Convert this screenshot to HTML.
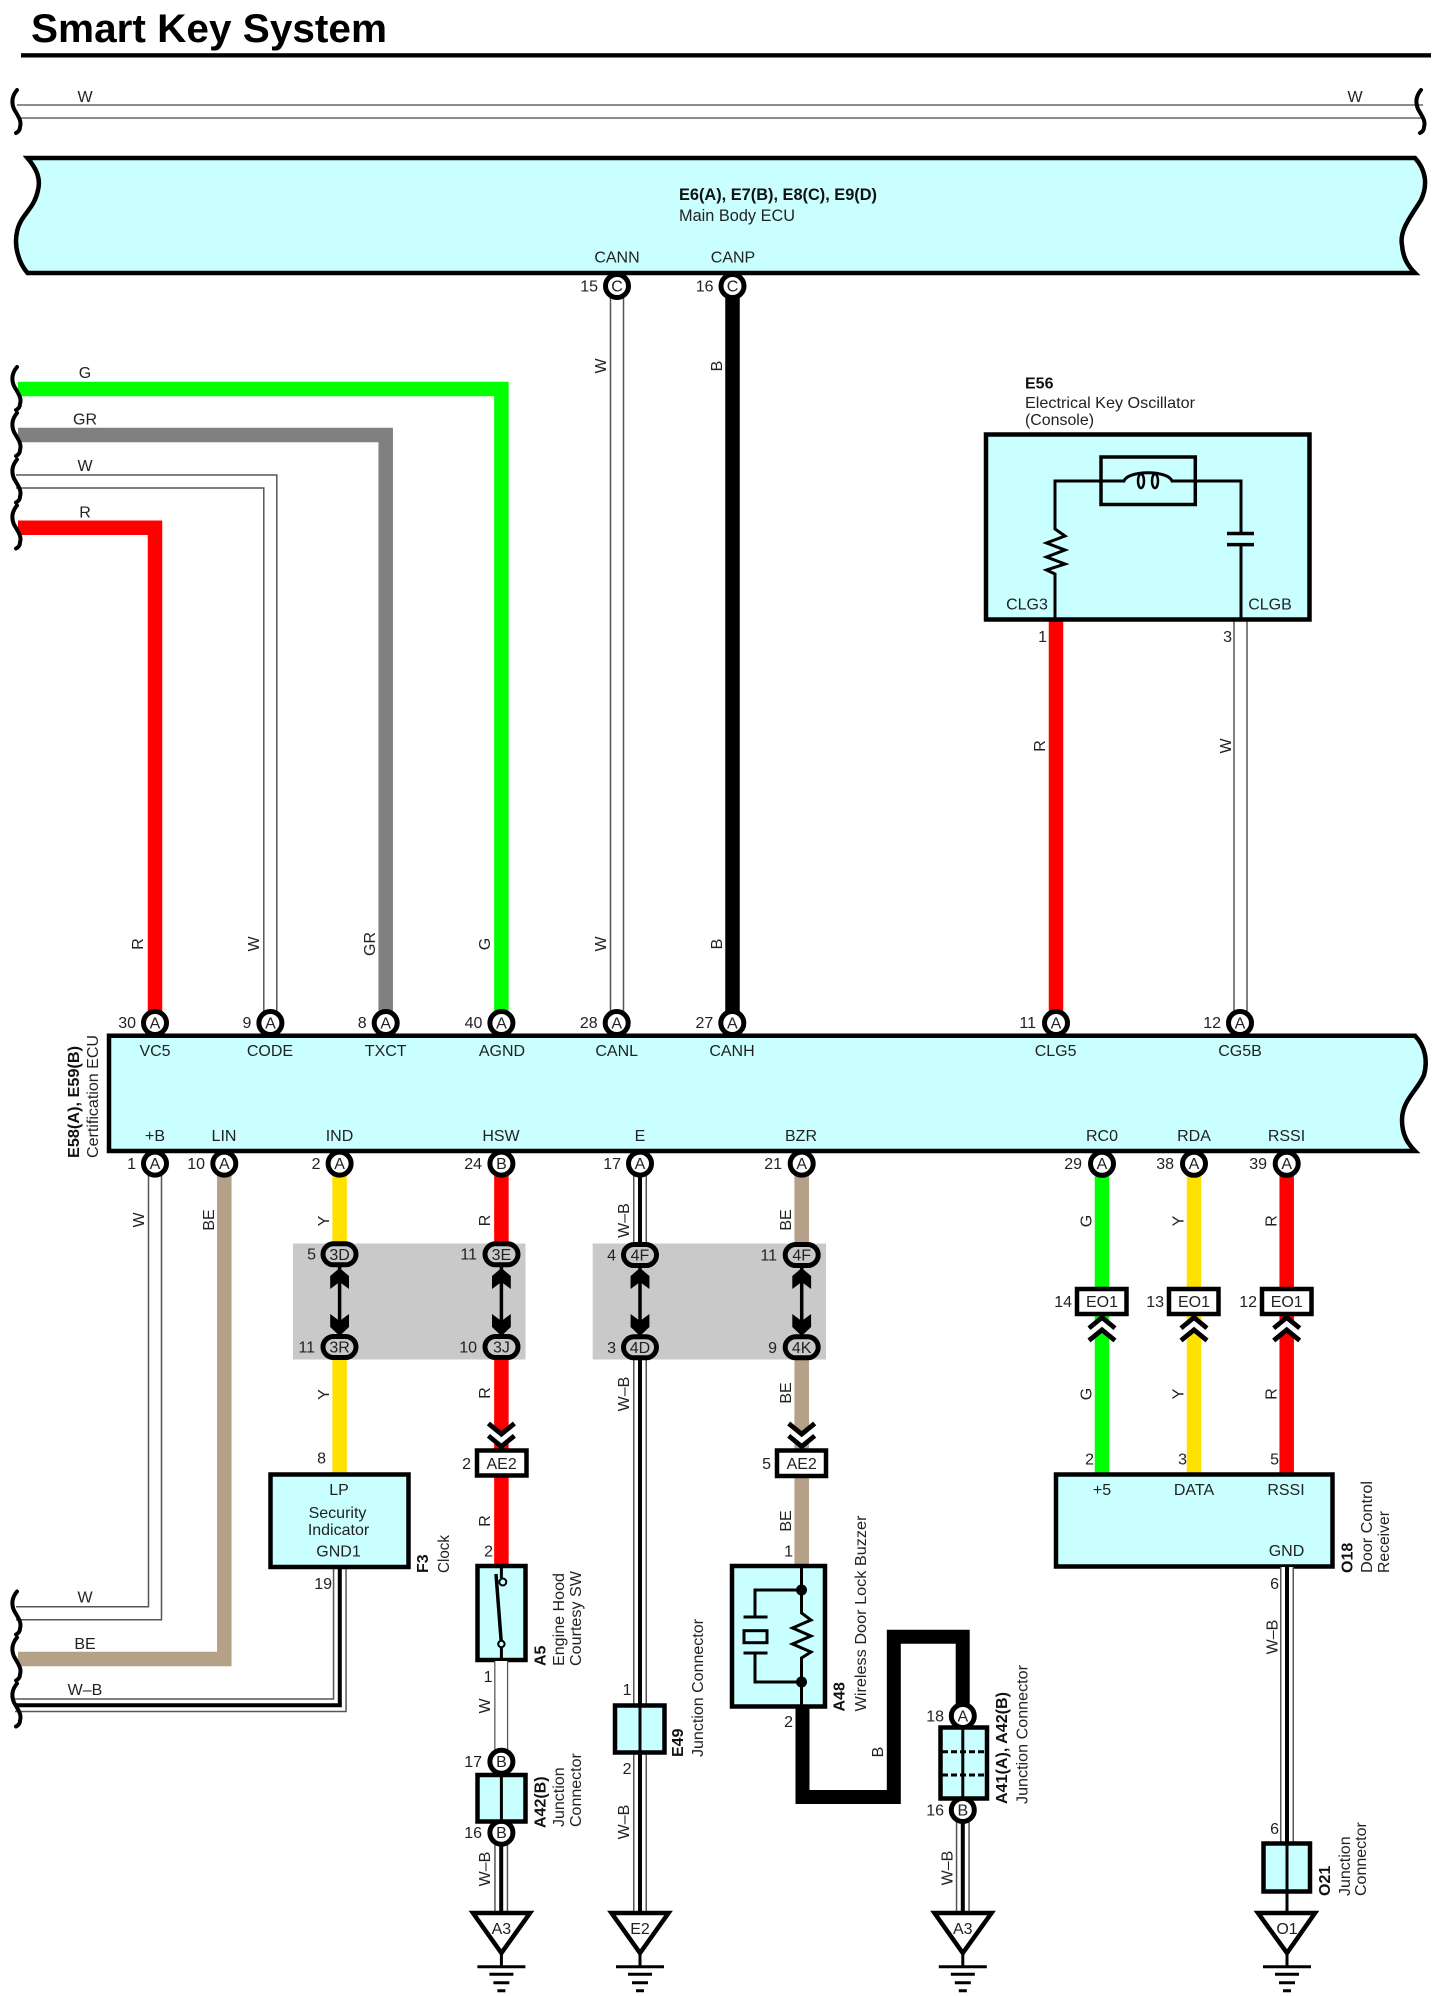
<!DOCTYPE html>
<html><head><meta charset="utf-8"><title>Smart Key System</title>
<style>
html,body{margin:0;padding:0;background:#fff}
svg{display:block}
text{font-family:"Liberation Sans",sans-serif;font-size:16px;fill:#222}
.m{text-anchor:middle}.e{text-anchor:end}.b{font-weight:bold;fill:#111}
.n{font-size:16px;text-anchor:end}
.l{font-size:16px;text-anchor:middle}
.w{fill:none;stroke-miterlimit:10}
.k{fill:none;stroke:#000;stroke-width:3}
.c{fill:#fff;stroke:#000;stroke-width:5;r:11.5px}
.o{fill:#c9c9c9;stroke:#000;stroke-width:5}
.x{fill:#c9ffff;stroke:#000;stroke-width:4.5}
.r{fill:#fff;stroke:#000;stroke-width:4.5}
.v{fill:none;stroke:#000;stroke-width:4}
.t{fill:#fff;stroke:#000;stroke-width:4.5;stroke-linejoin:miter}
</style></head><body>
<svg xmlns="http://www.w3.org/2000/svg" width="1444" height="1996" viewBox="0 0 1444 1996">
<defs>
<path id="wv" fill="none" stroke="#000" stroke-width="4" stroke-linecap="round" d="M17 0C12 6 11 12 14 19C18 26 22 31 20 37C20 40 18 42 16 43"/>
<g id="cd"><path fill="#fff" d="M-13 -23L0 -12.400L13 -23V-10.700L0 0L-13 -10.700Z"/><path fill="none" stroke="#000" stroke-width="4.800" d="M-13 -23L0 -12.400L13 -23M-13 -10.700L0 0L13 -10.700"/></g>
<g id="cu"><path fill="#fff" d="M-13 23L0 12.400L13 23V10.700L0 0L-13 10.700Z"/><path fill="none" stroke="#000" stroke-width="4.800" d="M-13 23L0 12.400L13 23M-13 10.700L0 0L13 10.700"/></g>
<g id="gnd"><path d="M0 0V12" stroke="#000" stroke-width="3"/><path d="M-24 12H24M-12 19.500H12M-8 28H8M-4 36H4" stroke="#000" stroke-width="3"/></g>
</defs>

<text class="b" x="31" y="42" style="font-size:40px;fill:#000" textLength="356" lengthAdjust="spacingAndGlyphs">Smart Key System</text>
<rect x="21" y="53.200" width="1410" height="4.300" fill="#000"/>

<!-- top W wire -->
<path class="w" stroke="#666" stroke-width="14.500" d="M17 111.500H1423"/>
<path class="w" stroke="#fff" stroke-width="11.500" d="M16 111.500H1424"/>
<use href="#wv" x="0" y="90"/><use href="#wv" x="1404" y="90"/>
<text class="l m" x="85" y="102">W</text><text class="l m" x="1355" y="102">W</text>

<!-- main body ecu -->
<path class="x" stroke-width="4" d="M27.500 158H1415C1426 170 1428 185 1421 200C1412 215 1399 230 1402 245C1403 258 1408 266 1415 273H27.500C18 262 14 245 17 232C20 215 34 210 38 190C41 178 36 168 27.500 158Z"/>
<text class="b" x="679" y="200" style="font-size:17px" textLength="198" lengthAdjust="spacingAndGlyphs">E6(A), E7(B), E8(C), E9(D)</text>
<text x="679" y="221" style="font-size:17px" textLength="116" lengthAdjust="spacingAndGlyphs">Main Body ECU</text>
<text class="m" x="617" y="262.500">CANN</text><text class="m" x="733" y="262.500">CANP</text>

<!-- wires upper -->
<path class="w" stroke="#f00" stroke-width="14.500" d="M18 527.700H155V1023"/>
<path class="w" stroke="#555" stroke-width="14.500" d="M16 481.500H270.300V1023"/>
<path class="w" stroke="#fff" stroke-width="11.500" d="M15 481.500H270.300V1023"/>
<path class="w" stroke="#808080" stroke-width="14.500" d="M18 435H385.700V1023"/>
<path class="w" stroke="#0f0" stroke-width="14.500" d="M18 389H501.400V1023"/>
<path class="w" stroke="#555" stroke-width="14.500" d="M617 286V1023"/>
<path class="w" stroke="#fff" stroke-width="11.500" d="M617 286V1023"/>
<path class="w" stroke="#000" stroke-width="14.500" d="M732.500 286V1023"/>
<path class="w" stroke="#f00" stroke-width="14.500" d="M1056 620V1023"/>
<path class="w" stroke="#555" stroke-width="14.500" d="M1240.500 620V1023"/>
<path class="w" stroke="#fff" stroke-width="11.500" d="M1240.500 620V1023"/>
<use href="#wv" y="367"/><use href="#wv" y="413"/><use href="#wv" y="459.500"/><use href="#wv" y="505.500"/>
<text class="l" x="85" y="378">G</text><text class="l" x="85" y="424.500">GR</text><text class="l" x="85" y="471">W</text><text class="l" x="85" y="517.500">R</text>

<!-- rotated upper wire labels -->
<g class="rl">
<text class="l" transform="translate(143 944) rotate(-90)">R</text>
<text class="l" transform="translate(259 944) rotate(-90)">W</text>
<text class="l" transform="translate(375 944) rotate(-90)">GR</text>
<text class="l" transform="translate(490 944) rotate(-90)">G</text>
<text class="l" transform="translate(606 944) rotate(-90)">W</text>
<text class="l" transform="translate(722 944) rotate(-90)">B</text>
<text class="l" transform="translate(606 366) rotate(-90)">W</text>
<text class="l" transform="translate(722 366) rotate(-90)">B</text>
<text class="l" transform="translate(1045 746) rotate(-90)">R</text>
<text class="l" transform="translate(1231 746) rotate(-90)">W</text>
</g>

<!-- lower wires -->
<path class="w" stroke="#555" stroke-width="14.500" d="M16 1613.300H155V1164"/>
<path class="w" stroke="#fff" stroke-width="11.500" d="M15 1613.300H155V1164"/>
<path class="w" stroke="#b5a088" stroke-width="14.500" d="M18 1659H224.300V1164"/>
<path class="w" stroke="#ffe100" stroke-width="14.500" d="M339.600 1164V1475"/>
<path class="w" stroke="#f00" stroke-width="14.500" d="M501.400 1164V1568"/>
<path class="w" stroke="#b5a088" stroke-width="14.500" d="M801.700 1164V1568"/>
<path class="w" stroke="#555" stroke-width="14" d="M640 1164V1913"/>
<path class="w" stroke="#fff" stroke-width="11" d="M640 1164V1913"/>
<path class="w" stroke="#000" stroke-width="4" d="M640 1164V1913"/>
<path class="w" stroke="#555" stroke-width="14" d="M15 1705.300H339.800V1567"/>
<path class="w" stroke="#fff" stroke-width="11" d="M15 1705.300H339.800V1567"/>
<path class="w" stroke="#000" stroke-width="4" d="M15 1705.300H339.800V1567"/>
<use href="#wv" y="1591.500"/><use href="#wv" y="1637.500"/><use href="#wv" y="1683.500"/>
<text class="l" x="85" y="1602.500">W</text><text class="l" x="85" y="1649">BE</text><text class="l" x="85" y="1695">W–B</text>

<!-- right lower wires -->
<path class="w" stroke="#0f0" stroke-width="14.500" d="M1102 1164V1476"/>
<path class="w" stroke="#ffe100" stroke-width="14.500" d="M1194 1164V1476"/>
<path class="w" stroke="#f00" stroke-width="14.500" d="M1286.700 1164V1476"/>

<!-- gray ranges -->
<rect x="293" y="1243.500" width="232.500" height="116" fill="#c9c9c9"/>
<rect x="592.700" y="1243.500" width="233.300" height="116" fill="#c9c9c9"/>

<!-- cert ecu -->
<path class="x" d="M109 1035.700H1415C1425 1046 1428 1060 1424 1075C1418 1090 1402 1100 1402 1120C1402 1135 1408 1144 1415 1151H109Z"/>
<text class="m" x="155" y="1056">VC5</text><text class="m" x="270" y="1056">CODE</text><text class="m" x="385.700" y="1056">TXCT</text><text class="m" x="502" y="1056">AGND</text><text class="m" x="616.700" y="1056">CANL</text><text class="m" x="732" y="1056">CANH</text><text class="m" x="1055.600" y="1056">CLG5</text><text class="m" x="1240" y="1056">CG5B</text>
<text class="m" x="155" y="1141">+B</text><text class="m" x="224" y="1141">LIN</text><text class="m" x="339.500" y="1141">IND</text><text class="m" x="501" y="1141">HSW</text><text class="m" x="640" y="1141">E</text><text class="m" x="801" y="1141">BZR</text><text class="m" x="1102" y="1141">RC0</text><text class="m" x="1194" y="1141">RDA</text><text class="m" x="1286.500" y="1141">RSSI</text>
<text class="b" transform="translate(79 1158) rotate(-90)" textLength="112" lengthAdjust="spacingAndGlyphs">E58(A), E59(B)</text>
<text transform="translate(98 1158) rotate(-90)" textLength="123" lengthAdjust="spacingAndGlyphs">Certification ECU</text>

<!-- circle nodes top -->
<circle class="c" cx="617" cy="286" r="11"/><text class="m" x="617" y="291.500">C</text><text class="n" x="598" y="291.500">15</text>
<circle class="c" cx="732.500" cy="286" r="11"/><text class="m" x="732.500" y="291.500">C</text><text class="n" x="713.500" y="291.500">16</text>
<g>
<circle class="c" cx="155" cy="1023" r="11"/><text class="m" x="155" y="1028.500">A</text><text class="n" x="136" y="1028">30</text>
<circle class="c" cx="270.400" cy="1023" r="11"/><text class="m" x="270.400" y="1028.500">A</text><text class="n" x="251.400" y="1028">9</text>
<circle class="c" cx="385.700" cy="1023" r="11"/><text class="m" x="385.700" y="1028.500">A</text><text class="n" x="366.700" y="1028">8</text>
<circle class="c" cx="501.400" cy="1023" r="11"/><text class="m" x="501.400" y="1028.500">A</text><text class="n" x="482.400" y="1028">40</text>
<circle class="c" cx="616.700" cy="1023" r="11"/><text class="m" x="616.700" y="1028.500">A</text><text class="n" x="597.700" y="1028">28</text>
<circle class="c" cx="732.300" cy="1023" r="11"/><text class="m" x="732.300" y="1028.500">A</text><text class="n" x="713.300" y="1028">27</text>
<circle class="c" cx="1056" cy="1023" r="11"/><text class="m" x="1056" y="1028.500">A</text><text class="n" x="1036" y="1028">11</text>
<circle class="c" cx="1240" cy="1023" r="11"/><text class="m" x="1240" y="1028.500">A</text><text class="n" x="1221" y="1028">12</text>
</g>
<!-- circle nodes bottom -->
<g>
<circle class="c" cx="155" cy="1163.600" r="11"/><text class="m" x="155" y="1169">A</text><text class="n" x="136" y="1169">1</text>
<circle class="c" cx="224.300" cy="1163.600" r="11"/><text class="m" x="224.300" y="1169">A</text><text class="n" x="205" y="1169">10</text>
<circle class="c" cx="339.600" cy="1163.600" r="11"/><text class="m" x="339.600" y="1169">A</text><text class="n" x="320.500" y="1169">2</text>
<circle class="c" cx="501.400" cy="1163.600" r="11"/><text class="m" x="501.400" y="1169">B</text><text class="n" x="482" y="1169">24</text>
<circle class="c" cx="640" cy="1163.600" r="11"/><text class="m" x="640" y="1169">A</text><text class="n" x="621" y="1169">17</text>
<circle class="c" cx="801.700" cy="1163.600" r="11"/><text class="m" x="801.700" y="1169">A</text><text class="n" x="782" y="1169">21</text>
<circle class="c" cx="1102" cy="1163.800" r="11"/><text class="m" x="1102" y="1169">A</text><text class="n" x="1082" y="1169">29</text>
<circle class="c" cx="1194" cy="1163.800" r="11"/><text class="m" x="1194" y="1169">A</text><text class="n" x="1174" y="1169">38</text>
<circle class="c" cx="1286.700" cy="1163.800" r="11"/><text class="m" x="1286.700" y="1169">A</text><text class="n" x="1267" y="1169">39</text>
</g>

<!-- junction ovals & arrows -->
<g>
<path stroke="#000" stroke-width="3.500" d="M339.600 1260V1340M501.400 1260V1340M640 1260V1340M801.700 1260V1340"/>
<path fill="#000" d="M339.600 1268L349 1276V1289L339.600 1282L330.200 1289V1276ZM339.600 1336L349 1327V1314L339.600 1321L330.200 1314V1327Z"/>
<path fill="#000" d="M501.400 1268L510.800 1276V1289L501.400 1282L492 1289V1276ZM501.400 1336L510.800 1327V1314L501.400 1321L492 1314V1327Z"/>
<path fill="#000" d="M640 1268L649.400 1276V1289L640 1282L630.600 1289V1276ZM640 1336L649.400 1327V1314L640 1321L630.600 1314V1327Z"/>
<path fill="#000" d="M801.700 1268L811.100 1276V1289L801.700 1282L792.300 1289V1276ZM801.700 1336L811.100 1327V1314L801.700 1321L792.300 1314V1327Z"/>
<rect class="o" x="323" y="1243.800" width="33" height="21" rx="10.500"/><text class="m" x="339.600" y="1259.800">3D</text><text class="n" x="316" y="1259.500">5</text>
<rect class="o" x="323" y="1336.500" width="33" height="21" rx="10.500"/><text class="m" x="339.600" y="1352.500">3R</text><text class="n" x="315" y="1352.500">11</text>
<rect class="o" x="485" y="1243.800" width="33" height="21" rx="10.500"/><text class="m" x="501.400" y="1259.800">3E</text><text class="n" x="477" y="1259.500">11</text>
<rect class="o" x="485" y="1336.500" width="33" height="21" rx="10.500"/><text class="m" x="501.400" y="1352.500">3J</text><text class="n" x="477" y="1352.500">10</text>
<rect class="o" x="623.500" y="1244.500" width="33" height="21" rx="10.500"/><text class="m" x="640" y="1260.500">4F</text><text class="n" x="616" y="1260.500">4</text>
<rect class="o" x="623.500" y="1336.800" width="33" height="21" rx="10.500"/><text class="m" x="640" y="1352.800">4D</text><text class="n" x="616" y="1352.800">3</text>
<rect class="o" x="785.200" y="1244.500" width="33" height="21" rx="10.500"/><text class="m" x="801.700" y="1260.500">4F</text><text class="n" x="777" y="1260.500">11</text>
<rect class="o" x="785.200" y="1336.800" width="33" height="21" rx="10.500"/><text class="m" x="801.700" y="1352.800">4K</text><text class="n" x="777" y="1352.800">9</text>
</g>

<!-- AE2 / EO1 -->
<use href="#cd" x="501.400" y="1446.500"/><use href="#cd" x="801.700" y="1446.500"/>
<rect class="r" x="477" y="1450.500" width="49.500" height="25"/><text class="m" x="501.600" y="1469">AE2</text><text class="n" x="471" y="1469">2</text>
<rect class="r" x="777" y="1450.500" width="49" height="25.500"/><text class="m" x="801.700" y="1469">AE2</text><text class="n" x="771" y="1469">5</text>
<use href="#cu" x="1102" y="1317.500"/><use href="#cu" x="1194" y="1317.500"/><use href="#cu" x="1286.700" y="1317.500"/>
<rect class="r" x="1077" y="1289" width="49.500" height="25"/><text class="m" x="1102" y="1307">EO1</text><text class="n" x="1072" y="1307">14</text>
<rect class="r" x="1169" y="1289" width="49.500" height="25"/><text class="m" x="1194" y="1307">EO1</text><text class="n" x="1164" y="1307">13</text>
<rect class="r" x="1262" y="1289" width="49.500" height="25"/><text class="m" x="1286.700" y="1307">EO1</text><text class="n" x="1257" y="1307">12</text>

<!-- wire labels lower -->
<text class="l" transform="translate(144 1220) rotate(-90)">W</text>
<text class="l" transform="translate(214 1220) rotate(-90)">BE</text>
<text class="l" transform="translate(329 1221) rotate(-90)">Y</text>
<text class="l" transform="translate(329 1394.500) rotate(-90)">Y</text>
<text class="l" transform="translate(490 1220.500) rotate(-90)">R</text>
<text class="l" transform="translate(490 1393) rotate(-90)">R</text>
<text class="l" transform="translate(490 1521) rotate(-90)">R</text>
<text class="l" transform="translate(629 1220.500) rotate(-90)">W–B</text>
<text class="l" transform="translate(629 1394) rotate(-90)">W–B</text>
<text class="l" transform="translate(791 1220) rotate(-90)">BE</text>
<text class="l" transform="translate(791 1393) rotate(-90)">BE</text>
<text class="l" transform="translate(791 1521) rotate(-90)">BE</text>
<text class="l" transform="translate(1091.500 1221) rotate(-90)">G</text>
<text class="l" transform="translate(1091.500 1394) rotate(-90)">G</text>
<text class="l" transform="translate(1183.500 1221) rotate(-90)">Y</text>
<text class="l" transform="translate(1183.500 1394) rotate(-90)">Y</text>
<text class="l" transform="translate(1276.500 1221) rotate(-90)">R</text>
<text class="l" transform="translate(1276.500 1394) rotate(-90)">R</text>
<text class="l" transform="translate(490 1706) rotate(-90)">W</text>
<text class="l" transform="translate(490 1869) rotate(-90)">W–B</text>
<text class="l" transform="translate(629 1822) rotate(-90)">W–B</text>
<text class="l" transform="translate(883 1752) rotate(-90)">B</text>
<text class="l" transform="translate(952.500 1868) rotate(-90)">W–B</text>
<text class="l" transform="translate(1277.500 1637) rotate(-90)">W–B</text>

<!-- LP clock -->
<rect class="x" x="270.500" y="1474.500" width="138" height="92.500"/>
<text class="m" x="339" y="1495">LP</text>
<text class="m" x="337.500" y="1518">Security</text>
<text class="m" x="338.500" y="1535">Indicator</text>
<text class="m" x="338.500" y="1556.500">GND1</text>
<text class="n" x="326" y="1463.500">8</text>
<text class="n" x="332" y="1589">19</text>
<text class="b" transform="translate(428 1573) rotate(-90)">F3</text>
<text transform="translate(449 1573) rotate(-90)" textLength="38" lengthAdjust="spacingAndGlyphs">Clock</text>

<!-- A5 engine hood -->
<rect class="x" stroke-width="4" x="477.500" y="1566" width="48" height="94"/>
<path fill="none" stroke="#000" stroke-width="3" d="M501.400 1566V1578M501.400 1644V1660"/>
<path d="M496 1574L501.400 1644" stroke="#000" stroke-width="3.500"/>
<circle cx="502.800" cy="1582" r="3.500" fill="#c9ffff" stroke="#000" stroke-width="2"/>
<circle cx="501.400" cy="1644" r="3.200" fill="#c9ffff" stroke="#000" stroke-width="2"/>
<text class="n" x="493" y="1556.500">2</text>
<text class="n" x="492.500" y="1682">1</text>
<text class="b" transform="translate(545.500 1666) rotate(-90)">A5</text>
<text transform="translate(564 1666) rotate(-90)" textLength="93" lengthAdjust="spacingAndGlyphs">Engine Hood</text>
<text transform="translate(581 1666) rotate(-90)" textLength="95" lengthAdjust="spacingAndGlyphs">Courtesy SW</text>

<!-- A5 to A42 -->
<path class="w" stroke="#555" stroke-width="14" d="M501.200 1661V1752"/>
<path class="w" stroke="#fff" stroke-width="11.500" d="M501.200 1661V1752"/>
<path class="w" stroke="#555" stroke-width="14" d="M501.200 1845V1913"/>
<path class="w" stroke="#fff" stroke-width="11" d="M501.200 1845V1913"/>
<path class="w" stroke="#000" stroke-width="4" d="M501.200 1845V1913"/>
<circle class="c" cx="501.400" cy="1761.700" r="11"/><text class="m" x="501.400" y="1767">B</text><text class="n" x="482" y="1767">17</text>
<circle class="c" cx="501.400" cy="1832.700" r="11"/><text class="m" x="501.400" y="1838">B</text><text class="n" x="482" y="1838">16</text>
<rect class="x" stroke-width="4" x="477.500" y="1775" width="48" height="46.500"/>
<path class="k" d="M501.400 1775V1821"/>
<text class="b" transform="translate(545.500 1828) rotate(-90)">A42(B)</text>
<text transform="translate(564 1827) rotate(-90)">Junction</text>
<text transform="translate(581 1827) rotate(-90)">Connector</text>

<!-- E49 -->
<rect class="x" stroke-width="4" x="615" y="1705.500" width="49.500" height="47"/>
<path class="k" d="M640 1705V1752"/>
<text class="n" x="631.500" y="1695">1</text><text class="n" x="631.500" y="1774">2</text>
<text class="b" transform="translate(683 1757) rotate(-90)">E49</text>
<text transform="translate(703 1757) rotate(-90)" textLength="138" lengthAdjust="spacingAndGlyphs">Junction Connector</text>

<!-- A48 buzzer -->
<path class="w" stroke="#000" stroke-width="14" d="M802.500 1706V1797H893.800V1636.700H962.700V1716"/>
<rect class="x" stroke-width="4" x="732" y="1566" width="93" height="140.500"/>
<path class="k" d="M801.500 1566V1613L811 1620L792.500 1628L811 1636L792.500 1644L811 1652L801.500 1658V1707"/>
<path class="k" stroke-width="3" d="M801.500 1590H755V1617M743.500 1617H767.500M743.500 1653H767.500M755 1653V1682H801.500"/>
<rect x="744" y="1630.700" width="23" height="12" fill="#c9ffff" stroke="#000" stroke-width="3"/>
<circle cx="801.500" cy="1590" r="5.500"/><circle cx="801.500" cy="1682" r="5.500"/>
<text class="n" x="793" y="1556.500">1</text><text class="n" x="793" y="1727">2</text>
<text class="b" transform="translate(844.500 1711.500) rotate(-90)">A48</text>
<text transform="translate(866 1711.500) rotate(-90)" textLength="196" lengthAdjust="spacingAndGlyphs">Wireless Door Lock Buzzer</text>

<!-- A41 -->
<path class="w" stroke="#555" stroke-width="14" d="M962.800 1820V1913"/>
<path class="w" stroke="#fff" stroke-width="11" d="M962.800 1820V1913"/>
<path class="w" stroke="#000" stroke-width="4" d="M962.800 1820V1913"/>
<circle class="c" cx="962.800" cy="1716" r="11"/><text class="m" x="962.800" y="1721.500">A</text><text class="n" x="944" y="1721.500">18</text>
<circle class="c" cx="962.800" cy="1810" r="11"/><text class="m" x="962.800" y="1815.500">B</text><text class="n" x="944" y="1815.500">16</text>
<rect class="x" stroke-width="4" x="940.500" y="1727.500" width="46.500" height="71"/>
<path class="k" d="M962.800 1727V1798"/>
<path fill="none" stroke="#000" stroke-width="3" stroke-dasharray="6 3 6 3" d="M942 1751.700H986M942 1775H986"/>
<text class="b" transform="translate(1007 1804) rotate(-90)" textLength="112" lengthAdjust="spacingAndGlyphs">A41(A), A42(B)</text>
<text transform="translate(1027.500 1804) rotate(-90)" textLength="139" lengthAdjust="spacingAndGlyphs">Junction Connector</text>

<!-- O18 -->
<rect class="x" x="1056" y="1474.500" width="276.500" height="92"/>
<text class="m" x="1102" y="1495">+5</text><text class="m" x="1194" y="1495">DATA</text><text class="m" x="1286" y="1495">RSSI</text><text class="m" x="1286.500" y="1556">GND</text>
<text class="n" x="1094" y="1464.500">2</text><text class="n" x="1187" y="1464.500">3</text><text class="n" x="1279" y="1464.500">5</text>
<text class="b" transform="translate(1352.500 1573) rotate(-90)">O18</text>
<text transform="translate(1372 1573) rotate(-90)" textLength="92" lengthAdjust="spacingAndGlyphs">Door Control</text>
<text transform="translate(1389 1573) rotate(-90)" textLength="62" lengthAdjust="spacingAndGlyphs">Receiver</text>
<path class="w" stroke="#555" stroke-width="14" d="M1287 1567V1844"/>
<path class="w" stroke="#fff" stroke-width="11" d="M1287 1567V1844"/>
<path class="w" stroke="#000" stroke-width="4" d="M1287 1567V1844"/>
<text class="n" x="1279" y="1589">6</text><text class="n" x="1279" y="1834">6</text>
<rect class="x" x="1263.500" y="1843.500" width="46.500" height="48"/>
<path class="k" d="M1287 1843V1913"/>
<text class="b" transform="translate(1330 1896) rotate(-90)">O21</text>
<text transform="translate(1350 1896) rotate(-90)">Junction</text>
<text transform="translate(1366 1896) rotate(-90)">Connector</text>

<!-- grounds -->
<path class="t" d="M473 1913H530L501.400 1953Z"/><text class="m" x="501.400" y="1934">A3</text><use href="#gnd" x="501.400" y="1954.700"/>
<path class="t" d="M611.500 1913H668.500L640 1953Z"/><text class="m" x="640" y="1934">E2</text><use href="#gnd" x="640" y="1954.700"/>
<path class="t" d="M934.500 1913H991.500L962.800 1953Z"/><text class="m" x="962.800" y="1934">A3</text><use href="#gnd" x="962.800" y="1954.700"/>
<path class="t" d="M1258 1913H1315L1287 1953Z"/><text class="m" x="1287" y="1934">O1</text><use href="#gnd" x="1287" y="1954.700"/>

<!-- E56 -->
<text class="b" x="1025" y="388.500">E56</text>
<text x="1025" y="408" textLength="170" lengthAdjust="spacingAndGlyphs">Electrical Key Oscillator</text>
<text x="1025" y="425" textLength="69" lengthAdjust="spacingAndGlyphs">(Console)</text>
<rect class="x" x="986" y="434.500" width="323.500" height="185"/>
<rect x="1101" y="457" width="94.300" height="47.500" fill="none" stroke="#000" stroke-width="3.500"/>
<path class="k" d="M1055 620V574L1046.500 570L1065 564L1046.500 557L1065 550L1046.500 543L1065 536L1055 529V481H1124C1128 470 1168 470 1172 481H1241V533.500M1241 544.600V620"/>
<path d="M1227 533.500H1254M1227 544.600H1254" stroke="#000" stroke-width="3.500"/>
<ellipse cx="1141" cy="481" rx="3" ry="7" fill="none" stroke="#000" stroke-width="2.500"/>
<ellipse cx="1155" cy="481" rx="3" ry="7" fill="none" stroke="#000" stroke-width="2.500"/>
<text class="m" x="1027" y="609.500">CLG3</text><text class="m" x="1270" y="609.500">CLGB</text>
<text class="n" x="1047" y="642">1</text><text class="n" x="1232" y="642">3</text>
</svg>
</body></html>
